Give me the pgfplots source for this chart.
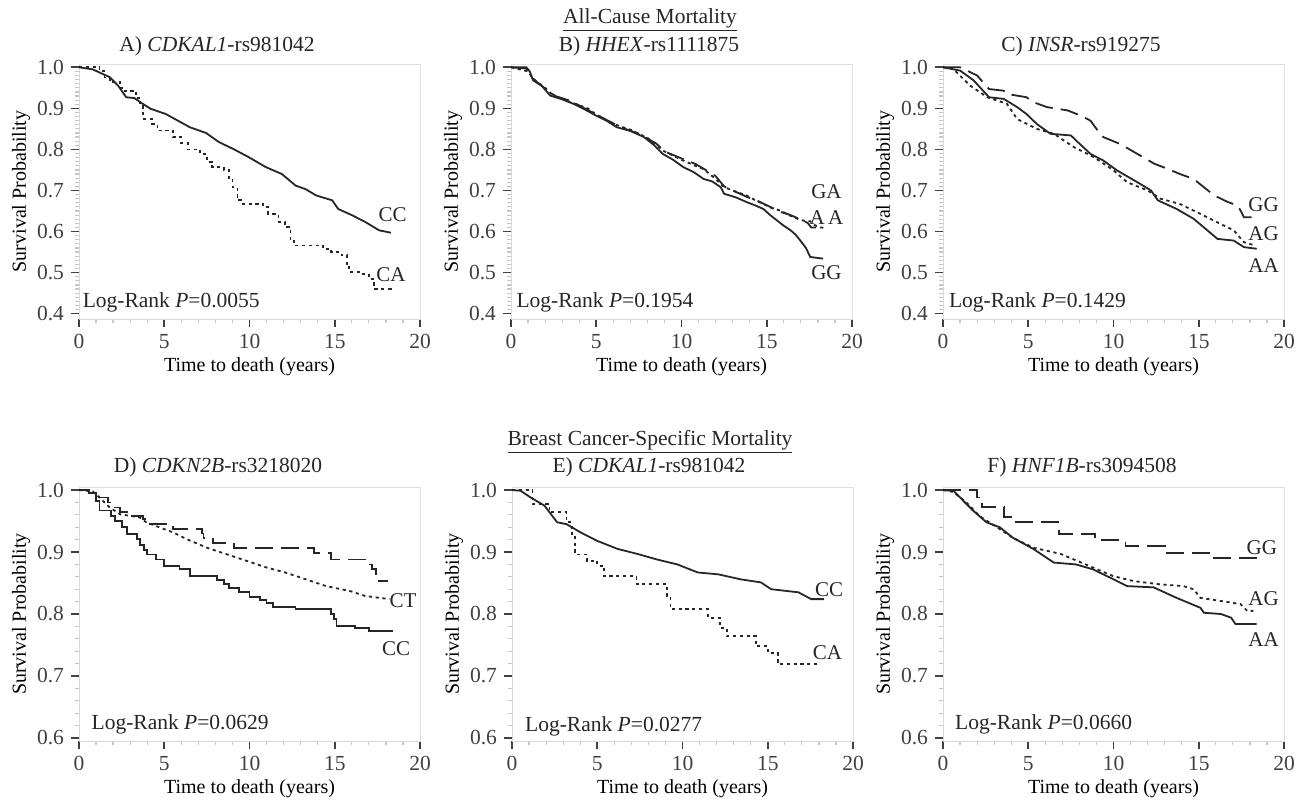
\documentclass[border=0pt]{standalone}
\usepackage{fontspec}
\setmainfont{Liberation Serif}
\usepackage{pgfplots}
\pgfplotsset{compat=1.18}

% Kaplan-Meier panels, 1 px of the reference = 0.5pt
\pgfplotsset{
  km/.style={
    scale only axis, width=170.5pt,
    xmin=0, xmax=20, xtick={0,5,10,15,20}, minor x tick num=4,
    axis line style={gray!30},
    tick align=outside, xtick pos=bottom, ytick pos=left,
    major tick length=4pt, minor tick length=2.2pt,
    major tick style={black!75, line width=0.8pt},
    minor tick style={gray!45, line width=0.6pt},
    tick label style={font=\fontsize{10.75}{12}\selectfont, text=black!75},
    /pgf/number format/assume math mode=true,
    xticklabel={\pgfmathprintnumber{\tick}},
    yticklabel={\pgfmathprintnumber[fixed,fixed zerofill,precision=1]{\tick}},
    xlabel={Time to death (years)}, ylabel={Survival Probability},
    label style={font=\fontsize{9.5}{11}\selectfont, text=black!75},
    every axis x label/.style={at={(axis description cs:0.5,-0.188)}, anchor=center},
    every axis y label/.style={at={(axis description cs:-0.17,0.5)}, anchor=center, rotate=90},
    clip=false,
  },
  toprow/.style={km, height=127.5pt, ymin=0.387, ymax=1.008,
    ytick={0.4,0.5,0.6,0.7,0.8,0.9,1.0}, minor y tick num=9},
  botrow/.style={km, height=127pt, ymin=0.595, ymax=1.005,
    ytick={0.6,0.7,0.8,0.9,1.0}, minor y tick num=4},
  solidc/.style={black!85, line width=0.9pt},
  dotc/.style={black!85, line width=0.9pt, dash pattern=on 1.6pt off 1.8pt},
  dashc/.style={black!85, line width=0.9pt, dash pattern=on 9pt off 4pt},
}
\newcommand{\frameTR}{\draw[gray!25] (rel axis cs:0,1) -- (rel axis cs:1,1) -- (rel axis cs:1,0);}
\newcommand{\gl}[3]{\node[font=\fontsize{10.5}{12}\selectfont, text=black!85] at (axis cs:#1,#2) {#3};}
\newcommand{\lr}[3]{\node[anchor=west, inner sep=0pt, font=\fontsize{10.75}{12}\selectfont, text=black!85] at (axis cs:#1,#2) {Log-Rank \textit{P}=#3};}

\begin{document}
\begin{tikzpicture}
\path[use as bounding box] (0,0) rectangle (653pt,401pt);

\begin{scope}[every node/.style={font=\fontsize{10.75}{12}\selectfont, text=black!85}]
\node at (325pt,391pt) {\underline{All-Cause Mortality}};
\node at (325pt,180pt) {\underline{Breast Cancer-Specific Mortality}};
\node at (108.5pt,378pt) {A) \textit{CDKAL1}-rs981042};
\node at (324.5pt,378pt) {B) \textit{HHEX}-rs1111875};
\node at (540.5pt,378pt) {C) \textit{INSR}-rs919275};
\node at (109pt,167.5pt) {D) \textit{CDKN2B}-rs3218020};
\node at (324.5pt,167.5pt) {E) \textit{CDKAL1}-rs981042};
\node at (541pt,167.5pt) {F) \textit{HNF1B}-rs3094508};
\end{scope}

% A) CDKAL1 all-cause
\begin{axis}[toprow, at={(39.5pt,241.5pt)}, anchor=south west]
\addplot[solidc] coordinates {(0,1) (0.8,0.995) (1.8,0.976) (2.3,0.955) (2.77,0.927) (3.25,0.925) (3.7,0.912) (4.2,0.899) (5.1,0.886) (5.8,0.87) (6.5,0.854) (7.45,0.84) (8.2,0.818) (9.1,0.8) (10,0.78) (10.95,0.757) (11.9,0.74) (12.7,0.712) (13.3,0.703) (13.9,0.688) (14.85,0.676) (15.2,0.655) (16,0.64) (16.8,0.623) (17.6,0.603) (18.3,0.597)};
\addplot[dotc, const plot] coordinates {(0,1) (1.2,0.99) (1.5,0.975) (1.8,0.965) (2.4,0.95) (2.6,0.943) (3.35,0.925) (3.6,0.905) (3.75,0.875) (4.3,0.862) (4.6,0.846) (5.5,0.83) (6.0,0.815) (6.4,0.8) (7.1,0.789) (7.5,0.77) (7.8,0.757) (8.5,0.749) (8.8,0.73) (9.0,0.708) (9.3,0.676) (9.6,0.668) (10.8,0.66) (11.1,0.643) (11.7,0.623) (12.1,0.611) (12.4,0.578) (12.6,0.566) (14.3,0.558) (14.8,0.55) (15.4,0.542) (15.7,0.518) (15.85,0.501) (16.6,0.497) (17.0,0.485) (17.3,0.461) (18.3,0.457)};
\frameTR
\gl{18.4}{0.64}{CC}
\gl{18.3}{0.496}{CA}
\lr{0.2}{0.428}{0.0055}
\end{axis}

% B) HHEX all-cause
\begin{axis}[toprow, at={(255.5pt,241.5pt)}, anchor=south west]
\addplot[solidc] coordinates {(0,1) (0.9,1.0) (1.1,0.99) (1.3,0.968) (1.8,0.955) (2.3,0.931) (3.0,0.922) (3.66,0.911) (4.3,0.898) (5.0,0.882) (5.6,0.87) (6.2,0.854) (7.0,0.845) (7.8,0.83) (8.4,0.81) (8.9,0.789) (9.5,0.775) (10.1,0.757) (10.7,0.745) (11.3,0.728) (11.8,0.722) (12.3,0.708) (12.5,0.692) (13.2,0.683) (13.8,0.672) (14.3,0.664) (14.8,0.655) (15.2,0.64) (15.6,0.627) (16.0,0.614) (16.4,0.603) (16.7,0.592) (16.97,0.578) (17.3,0.56) (17.55,0.538) (18.3,0.534)};
\addplot[dotc] coordinates {(0,1) (1.0,0.99) (1.3,0.972) (2.0,0.95) (2.5,0.93) (3.5,0.915) (4.5,0.9) (5.0,0.885) (6.0,0.862) (7.0,0.848) (8.0,0.828) (9.0,0.795) (10.1,0.773) (10.7,0.762) (11.3,0.752) (12.0,0.728) (12.5,0.708) (13.2,0.697) (13.8,0.688) (14.3,0.677) (14.8,0.667) (15.3,0.657) (15.8,0.651) (16.3,0.64) (16.8,0.631) (17.2,0.626) (17.55,0.625) (17.8,0.616) (18.1,0.61) (18.4,0.609)};
\addplot[dashc] coordinates {(0,1) (0.9,0.997) (1.2,0.975) (2.0,0.948) (2.6,0.93) (3.5,0.918) (4.5,0.896) (5.5,0.874) (6.5,0.853) (7.5,0.838) (8.5,0.815) (9.0,0.795) (10.0,0.778) (10.8,0.765) (11.5,0.748) (12.0,0.735) (12.5,0.71) (13.0,0.7) (13.8,0.685) (14.5,0.674) (15.2,0.66) (15.8,0.648) (16.4,0.64) (17.0,0.629) (17.4,0.621) (17.6,0.61) (17.9,0.61)};
\frameTR
\gl{18.5}{0.698}{GA}
\gl{18.5}{0.635}{A\,A}
\gl{18.5}{0.5}{GG}
\lr{0.3}{0.428}{0.1954}
\end{axis}

% C) INSR all-cause
\begin{axis}[toprow, at={(471.5pt,241.5pt)}, anchor=south west]
\addplot[dashc] coordinates {(0,1) (1.0,1.0) (2.0,0.98) (2.7,0.947) (3.56,0.943) (3.75,0.935) (4.9,0.927) (5.3,0.915) (6.1,0.903) (7.3,0.895) (8.1,0.882) (8.65,0.87) (9.0,0.85) (9.4,0.83) (10.4,0.813) (11.4,0.789) (12.4,0.765) (13.15,0.753) (13.9,0.74) (14.7,0.728) (15.3,0.708) (15.9,0.688) (16.7,0.672) (17.3,0.663) (17.65,0.635) (18.1,0.635)};
\addplot[solidc] coordinates {(0,1) (1.0,0.992) (1.8,0.968) (2.7,0.927) (3.56,0.923) (4.35,0.903) (4.9,0.886) (5.5,0.862) (6.3,0.838) (7.5,0.834) (7.9,0.818) (8.65,0.789) (9.4,0.773) (10.2,0.749) (11.4,0.72) (12.2,0.7) (12.6,0.676) (13.7,0.655) (14.7,0.631) (15.5,0.603) (16.1,0.582) (17.05,0.578) (17.65,0.562) (18.4,0.558)};
\addplot[dotc] coordinates {(0,1) (0.6,0.996) (1.6,0.955) (2.6,0.927) (3.75,0.911) (4.35,0.874) (5.5,0.85) (6.5,0.838) (7.7,0.805) (8.85,0.781) (10.0,0.749) (10.8,0.72) (12.0,0.7) (12.75,0.68) (13.9,0.667) (15.1,0.643) (16.3,0.618) (17.05,0.603) (17.65,0.574) (18.3,0.566)};
\frameTR
\gl{18.8}{0.666}{GG}
\gl{18.8}{0.595}{AG}
\gl{18.8}{0.517}{AA}
\lr{0.33}{0.428}{0.1429}
\end{axis}

% D) CDKN2B breast cancer-specific
\begin{axis}[botrow, at={(39.5pt,30.5pt)}, anchor=south west]
\addplot[solidc, const plot] coordinates {(0,1) (0.6,0.995) (1.0,0.983) (1.2,0.967) (1.9,0.958) (2.1,0.95) (2.5,0.94) (2.8,0.929) (3.4,0.921) (3.6,0.912) (3.8,0.903) (4.0,0.896) (4.5,0.888) (5.0,0.878) (5.9,0.872) (6.5,0.861) (8.1,0.855) (8.5,0.848) (8.8,0.842) (9.4,0.836) (10.0,0.828) (10.6,0.823) (11.0,0.818) (11.4,0.811) (12.7,0.808) (14.8,0.8) (14.95,0.792) (15.1,0.781) (16.2,0.778) (17.0,0.773) (18.4,0.773)};
\addplot[dotc] coordinates {(0,1) (0.8,0.998) (1.2,0.988) (1.8,0.972) (2.4,0.961) (3.55,0.956) (3.95,0.948) (4.7,0.94) (5.5,0.932) (6.3,0.921) (7.5,0.907) (8.6,0.897) (9.8,0.886) (11.0,0.875) (12.1,0.867) (13.3,0.856) (14.5,0.845) (15.9,0.837) (16.8,0.829) (18.2,0.824)};
\addplot[dashc, const plot] coordinates {(0,1) (0.6,0.995) (1.2,0.988) (1.7,0.98) (2.0,0.972) (2.4,0.965) (2.8,0.958) (3.75,0.953) (3.95,0.945) (5.1,0.94) (5.5,0.937) (7.2,0.93) (7.3,0.923) (7.85,0.915) (9.1,0.907) (13.8,0.898) (14.8,0.888) (16.9,0.88) (17.2,0.872) (17.4,0.862) (17.5,0.853) (18.1,0.853)};
\frameTR
\gl{19.0}{0.822}{CT}
\gl{18.6}{0.744}{CC}
\lr{0.72}{0.622}{0.0629}
\end{axis}

% E) CDKAL1 breast cancer-specific
\begin{axis}[botrow, at={(256pt,30.5pt)}, anchor=south west]
\addplot[solidc] coordinates {(0,1) (0.5,0.999) (1.1,0.988) (1.9,0.975) (2.65,0.948) (3.2,0.945) (4.0,0.932) (5.0,0.918) (6.2,0.905) (7.35,0.897) (8.5,0.888) (9.7,0.88) (10.9,0.867) (12.1,0.864) (13.4,0.856) (14.6,0.851) (15.2,0.84) (16.8,0.835) (17.55,0.824) (18.3,0.824)};
\addplot[dotc, const plot] coordinates {(0,1) (1.2,0.977) (2.2,0.964) (3.2,0.948) (3.5,0.929) (3.7,0.896) (4.4,0.886) (5.0,0.878) (5.4,0.861) (7.3,0.848) (9.1,0.829) (9.3,0.808) (11.5,0.794) (12.2,0.778) (12.6,0.764) (14.3,0.748) (15.0,0.737) (15.6,0.719) (18.1,0.719)};
\frameTR
\gl{18.6}{0.839}{CC}
\gl{18.5}{0.738}{CA}
\lr{0.75}{0.619}{0.0277}
\end{axis}

% F) HNF1B breast cancer-specific
\begin{axis}[botrow, at={(471.5pt,30.5pt)}, anchor=south west]
\addplot[dashc, const plot] coordinates {(0,1) (2.0,0.988) (2.3,0.973) (3.6,0.956) (4.0,0.948) (6.8,0.929) (8.9,0.919) (10.7,0.91) (13.0,0.899) (15.6,0.891) (18.4,0.891)};
\addplot[solidc] coordinates {(0,1) (0.6,0.999) (1.0,0.988) (1.76,0.967) (2.55,0.948) (3.33,0.94) (4.1,0.923) (5.3,0.905) (6.5,0.883) (7.8,0.88) (8.8,0.872) (10.0,0.856) (10.8,0.845) (12.35,0.843) (13.7,0.826) (15.1,0.81) (15.3,0.802) (16.3,0.8) (16.9,0.794) (17.15,0.784) (18.4,0.784)};
\addplot[dotc] coordinates {(0,1) (0.6,0.997) (1.37,0.98) (2.15,0.958) (3.33,0.937) (4.1,0.923) (5.3,0.907) (6.9,0.897) (8.8,0.875) (10.0,0.861) (11.2,0.853) (12.7,0.848) (14.1,0.845) (14.7,0.84) (15.1,0.826) (16.3,0.821) (17.45,0.816) (17.85,0.805) (18.2,0.805)};
\frameTR
\gl{18.7}{0.907}{GG}
\gl{18.8}{0.824}{AG}
\gl{18.8}{0.759}{AA}
\lr{0.69}{0.622}{0.0660}
\end{axis}
\end{tikzpicture}
\end{document}
